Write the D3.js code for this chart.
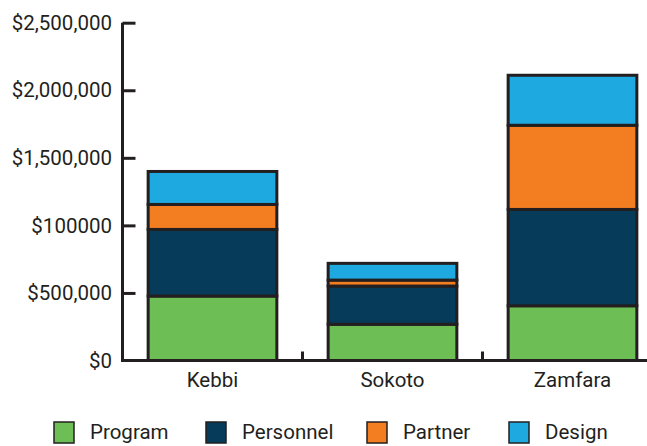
<!DOCTYPE html>
<html>
<head>
<meta charset="utf-8">
<script src="https://cdn.jsdelivr.net/npm/d3@7/dist/d3.min.js"></script>
<style>
  body { margin: 0; background: #fff; }
  text { font-family: Roboto, sans-serif; fill: #231f20; }
</style>
</head>
<body>
<div id="chart"></div>
<script>
var regions = ["Kebbi", "Sokoto", "Zamfara"],
    seriesNames = ["Program", "Personnel", "Partner", "Design"],
    program = [477000, 268000, 405000],
    personnel = [493000, 283000, 713000],
    partner = [185000, 44000, 623000],
    design = [244000, 124000, 370000],
    yTicks = [0, 500000, 1000000, 1500000, 2000000, 2500000],
    yTickLabels = ["$0", "$500,000", "$100000", "$1,500,000", "$2,000,000", "$2,500,000"],
    colors = ["#6dbe54", "#073b5a", "#f37e22", "#1fa9e1"]

var W = 647, H = 446,
    INK = "#231f20",
    FONT = "20.5px"

var rows = regions.map(function(r, i) {
    return { region: r, Program: program[i], Personnel: personnel[i], Partner: partner[i], Design: design[i] }
})
var stack = d3.stack().keys(seriesNames)(rows)

var svg = d3.select("#chart").append("svg")
    .attr("width", W)
    .attr("height", H)

var x = d3.scaleBand()
    .domain(regions)
    .range([122.5, 662.5])
    .paddingInner(0.285)
    .paddingOuter(0.1425)

var y = d3.scaleLinear()
    .domain([0, 2500000])
    .range([360.5, 22.7])

var color = d3.scaleOrdinal().domain(seriesNames).range(colors)

// bars
svg.append("g").selectAll("g")
    .data(stack)
    .join("g")
    .attr("fill", d => color(d.key))
    .selectAll("rect")
    .data(d => d)
    .join("rect")
    .attr("x", d => x(d.data.region))
    .attr("width", x.bandwidth())
    .attr("y", d => y(d[1]))
    .attr("height", d => y(d[0]) - y(d[1]))
    .style("stroke", INK)
    .style("stroke-width", 3)

// y axis, ticks pointing inward
var yAxis = svg.append("g")
    .attr("transform", "translate(122.5,0)")
    .call(d3.axisRight(y).tickValues(yTicks).tickSize(13).tickFormat(""))
yAxis.select(".domain").attr("d", "M0," + y(2500000) + "V" + y(0)).style("stroke", INK).style("stroke-width", 3)
yAxis.selectAll(".tick line").style("stroke", INK).style("stroke-width", 3)
yAxis.selectAll(".tick line").filter(d => d === 0).remove()

svg.append("g").selectAll("text")
    .data(yTicks)
    .join("text")
    .attr("x", 112)
    .attr("y", d => y(d))
    .attr("dy", "0.35em")
    .attr("text-anchor", "end")
    .style("font-size", FONT)
    .text((d, i) => yTickLabels[i])

// x axis with boundary ticks
var step = x.step()
svg.append("line")
    .attr("x1", 121).attr("x2", W)
    .attr("y1", y(0)).attr("y2", y(0))
    .style("stroke", INK).style("stroke-width", 3)

svg.append("g").selectAll("line")
    .data(regions.slice(1))
    .join("line")
    .attr("x1", d => x(d) - x.paddingInner() * step / 2)
    .attr("x2", d => x(d) - x.paddingInner() * step / 2)
    .attr("y1", y(0))
    .attr("y2", y(0) - 9)
    .style("stroke", INK).style("stroke-width", 3)

svg.append("g").selectAll("text")
    .data(regions)
    .join("text")
    .attr("x", d => x(d) + x.bandwidth() / 2)
    .attr("y", 387)
    .attr("text-anchor", "middle")
    .style("font-size", FONT)
    .text(d => d)

// legend
var legendX = [54, 206, 367, 509]
var legend = svg.append("g").selectAll("g")
    .data(seriesNames)
    .join("g")
    .attr("transform", (d, i) => "translate(" + legendX[i] + ",422)")
legend.append("rect")
    .attr("width", 20)
    .attr("height", 21)
    .attr("fill", d => color(d))
    .style("stroke", INK)
    .style("stroke-width", 1.5)
legend.append("text")
    .attr("x", 36)
    .attr("y", 16.5)
    .style("font-size", FONT)
    .text(d => d)
</script>
</body>
</html>
